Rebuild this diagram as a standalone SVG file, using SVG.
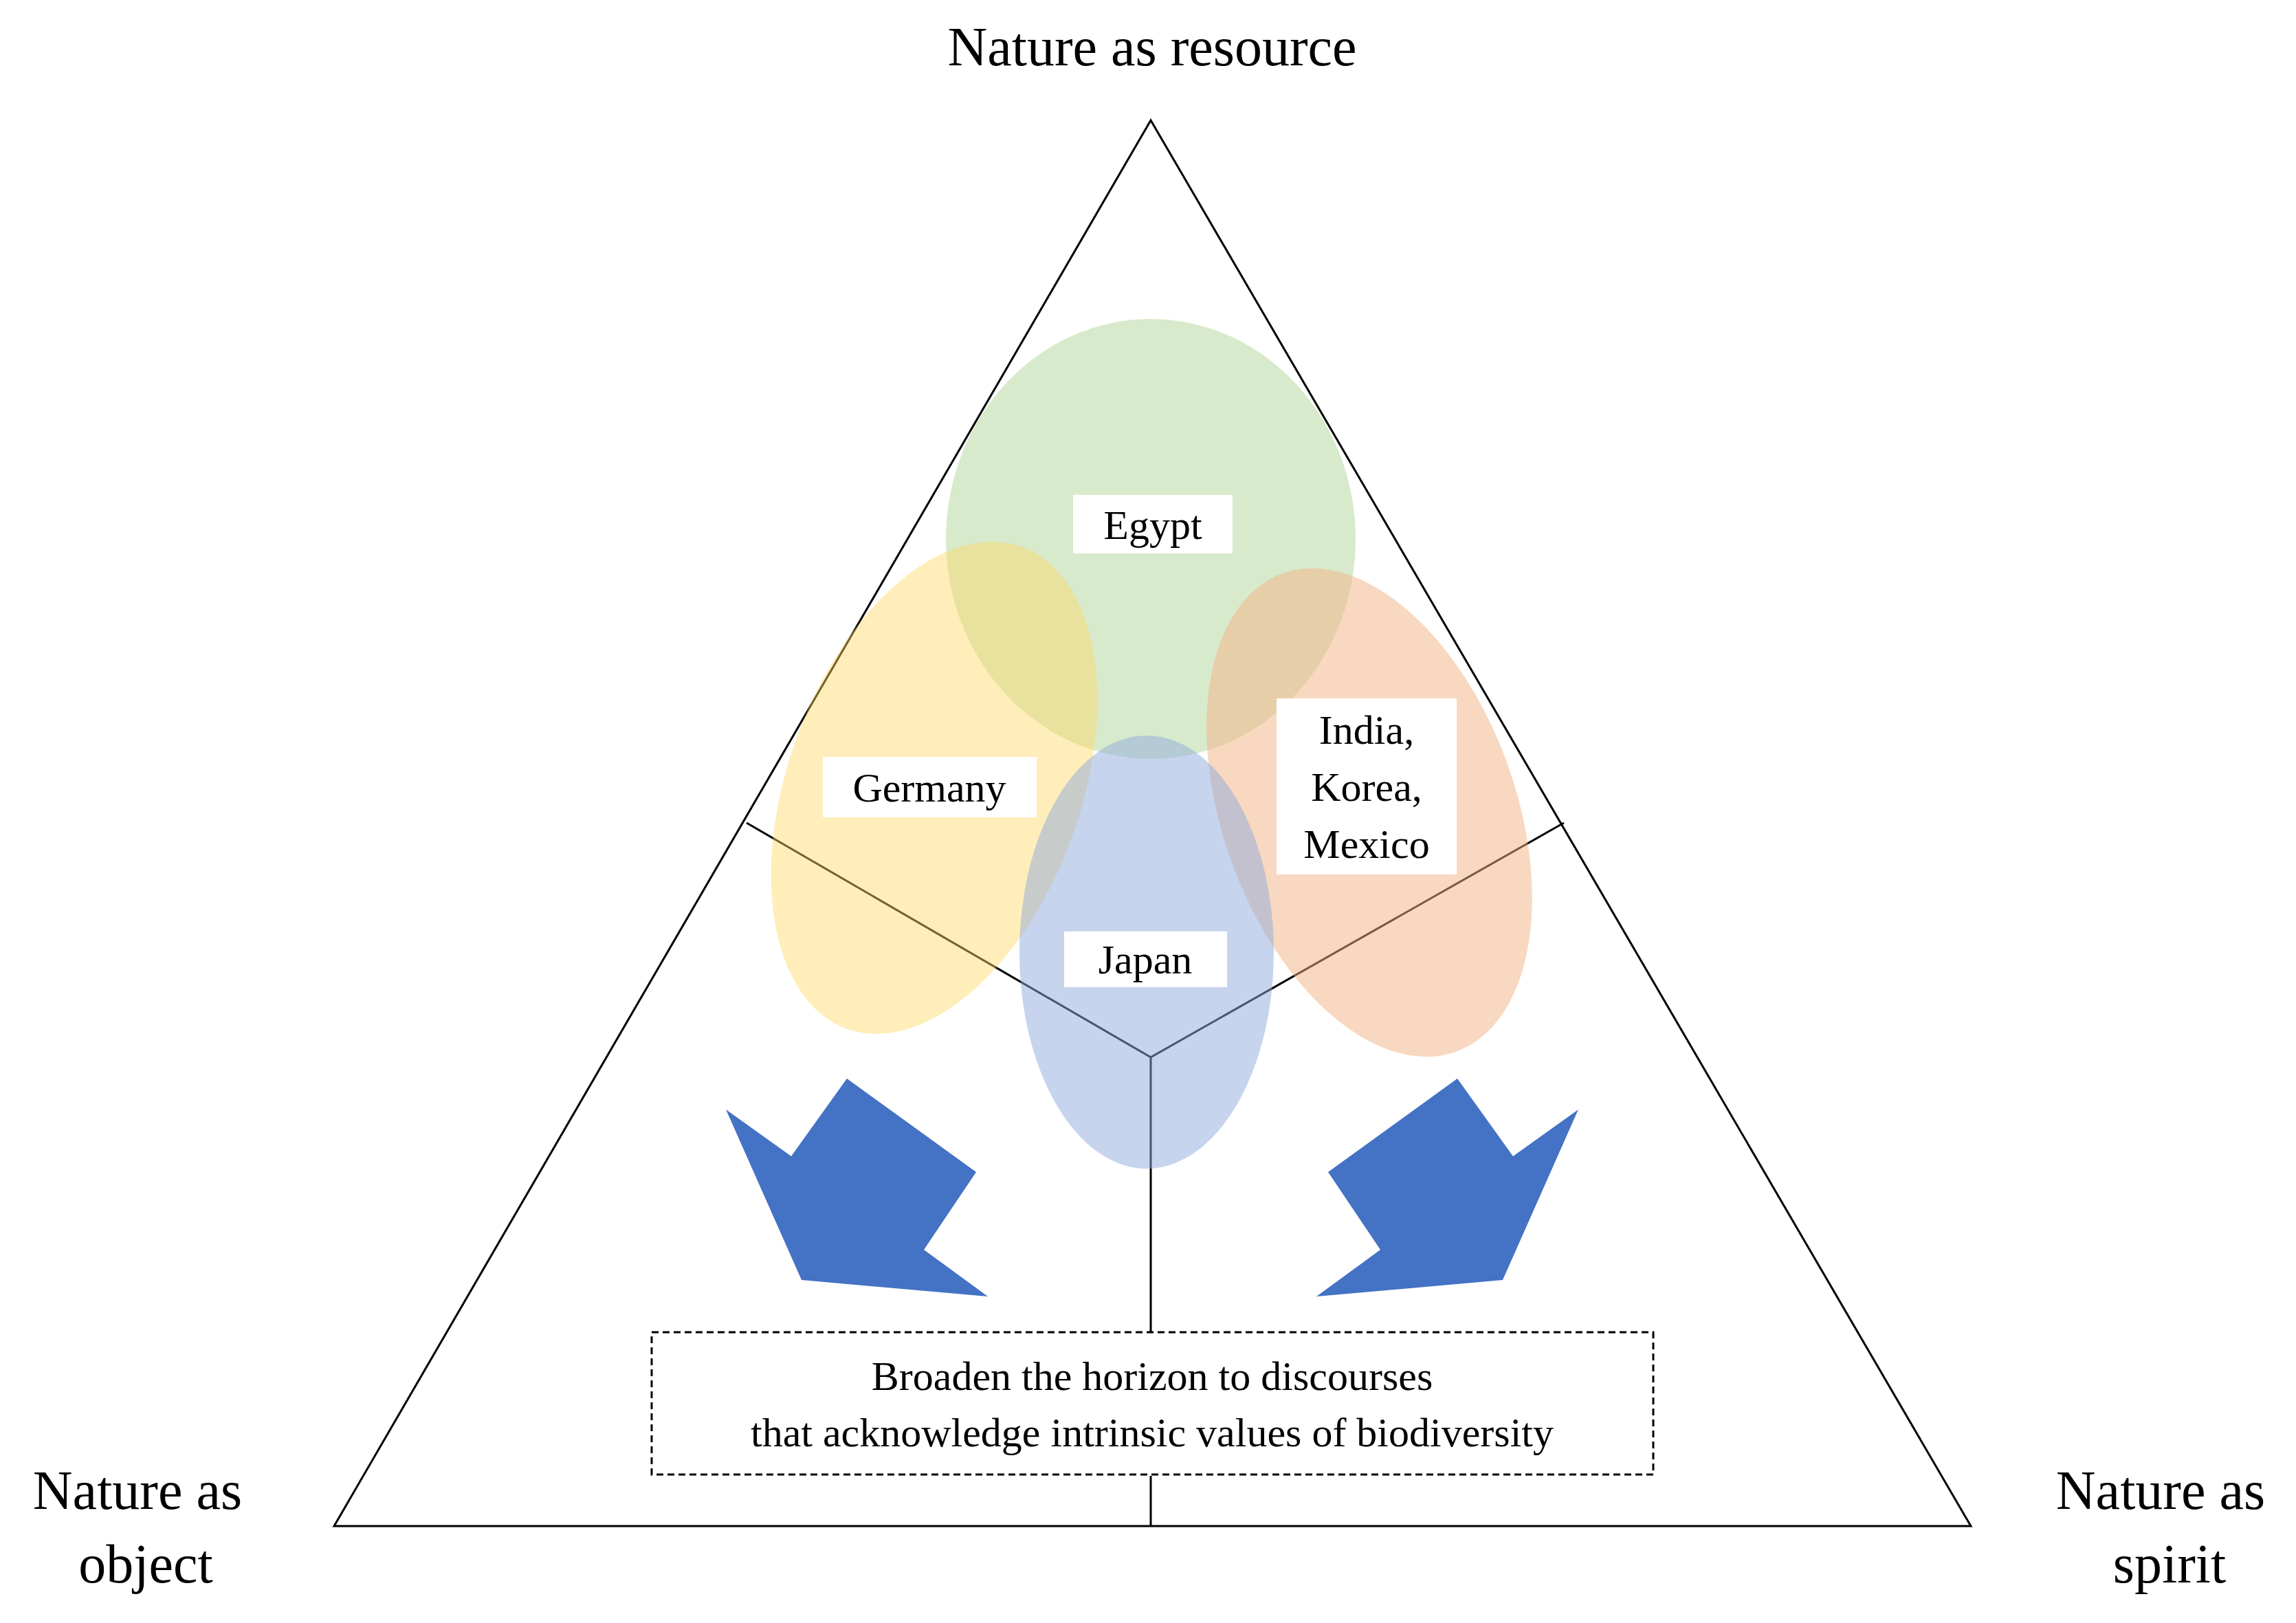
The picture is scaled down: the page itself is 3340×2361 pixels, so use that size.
<svg xmlns="http://www.w3.org/2000/svg" width="3340" height="2361" viewBox="0 0 3340 2361">
<style>
.t{font-family:"Liberation Serif","Times New Roman",serif;fill:#000}
.lab{font-size:60px;text-anchor:middle}
.big{font-size:80px;text-anchor:middle}
.ln{stroke:#000;stroke-width:3;fill:none}
.box{fill:#fff}
.arr{fill:#4472c4}
</style>
<rect width="3340" height="2361" fill="#fff"/>
<g id="triangle"><polygon class="ln" points="1674,175 486,2220 2867,2220"/></g>
<g id="connectors">
<line class="ln" x1="1674" y1="1538" x2="1086" y2="1197"/>
<line class="ln" x1="1674" y1="1538" x2="2275" y2="1197"/>
<line class="ln" x1="1674" y1="1538" x2="1674" y2="1938"/>
<line class="ln" x1="1674" y1="2147" x2="1674" y2="2220"/>
</g>
<g id="egypt"><ellipse cx="1674" cy="784" rx="298" ry="320" fill="#a9d08e" fill-opacity="0.45"/></g>
<g id="germany"><ellipse cx="1359" cy="1146" rx="213" ry="373" transform="rotate(20 1359 1146)" fill="#ffd966" fill-opacity="0.45"/></g>
<g id="india"><ellipse cx="1992" cy="1182" rx="213" ry="370" transform="rotate(-20 1992 1182)" fill="#f4b183" fill-opacity="0.5"/></g>
<g id="japan"><ellipse cx="1668" cy="1385" rx="185" ry="315" fill="#8faadc" fill-opacity="0.5"/></g>
<g id="labels">
<rect class="box" x="1561" y="720" width="232" height="85"/><text class="t lab" x="1677" y="784">Egypt</text>
<rect class="box" x="1197" y="1101" width="311" height="88"/><text class="t lab" x="1352" y="1166">Germany</text>
<rect class="box" x="1857" y="1016" width="262" height="256"/>
<text class="t lab" x="1988" y="1082">India,</text><text class="t lab" x="1988" y="1165">Korea,</text><text class="t lab" x="1988" y="1248">Mexico</text>
<rect class="box" x="1548" y="1355" width="237" height="81"/><text class="t lab" x="1666" y="1416">Japan</text>
</g>
<g id="arrows">
<polygon class="arr" points="1232,1569 1420,1705 1344,1818 1437,1886 1166,1862 1056,1614 1151,1682"/>
<polygon class="arr" points="2120,1569 1932,1705 2008,1818 1915,1886 2186,1862 2296,1614 2201,1682"/>
</g>
<g id="message">
<rect x="948" y="1938" width="1457" height="207" fill="#fff" stroke="#000" stroke-width="3" stroke-dasharray="10,6"/>
<text class="t lab" x="1676" y="2022">Broaden the horizon to discourses</text>
<text class="t lab" x="1676" y="2104">that acknowledge intrinsic values of biodiversity</text>
</g>
<g id="titles">
<text class="t big" x="1676" y="95">Nature as resource</text>
<text class="t big" x="200" y="2195">Nature as</text><text class="t big" x="212" y="2302">object</text>
<text class="t big" x="3143" y="2195">Nature as</text><text class="t big" x="3156" y="2302">spirit</text>
</g>
</svg>
